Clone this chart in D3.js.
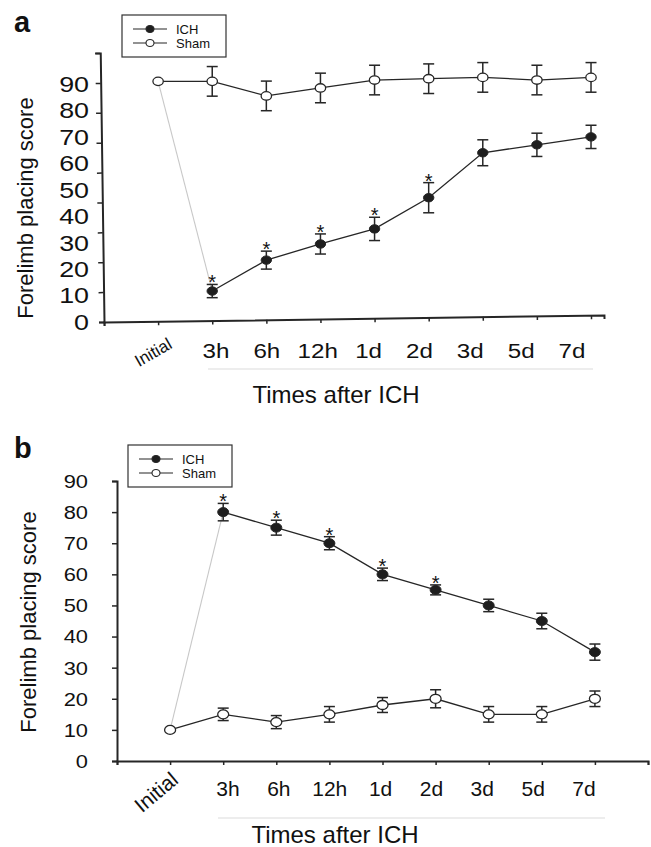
<!DOCTYPE html>
<html>
<head>
<meta charset="utf-8">
<script src="https://cdn.jsdelivr.net/npm/d3@7"></script>
<style>
  html, body { margin: 0; padding: 0; background: #fff; }
  svg { display: block; font-family: "Liberation Sans", Arial, sans-serif; }
</style>
</head>
<body>
<svg id="chart" width="651" height="847"></svg>
<script>
// ---------------- data ----------------
const timeLabels = ["Initial", "3h", "6h", "12h", "1d", "2d", "3d", "5d", "7d"];
const yTickLabels = [0, 10, 20, 30, 40, 50, 60, 70, 80, 90];
const seriesNames = ["ICH", "Sham"];

// Panel a (values from Initial .. 7d; ICH starts at 3h)
const shamA    = [91, 91, 85.5, 88.5, 91.5, 92, 92.5, 91.5, 92.5];
const shamErrA = [0, 5.6, 5.6, 5.6, 5.6, 5.6, 5.6, 5.6, 5.6];
const ichA     = [null, 11.7, 23.4, 29.5, 35.2, 47, 64, 67, 70];
const ichErrA  = [0, 2.5, 3.4, 3.8, 4.4, 5.7, 4.9, 4.4, 4.4];
const sigA     = [false, true, true, true, true, true, false, false, false];

// Panel b
const shamB    = [10, 15, 12.5, 15, 18, 20, 15, 15, 20];
const shamErrB = [0, 2, 2.1, 2.5, 2.4, 2.9, 2.5, 2.5, 2.5];
const ichB     = [null, 80, 75, 70, 60, 55, 50, 45, 35];
const ichErrB  = [0, 2.8, 2.4, 2.1, 2, 1.6, 2, 2.5, 2.6];
const sigB     = [false, true, true, true, true, true, false, false, false];

// ---------------- drawing ----------------
const svg = d3.select("#chart");
const DARK = "#262626";

function stretchText(sel, sx) {
  sel.each(function () {
    const t = d3.select(this);
    const x = +t.attr("x") || 0, y = +t.attr("y") || 0;
    t.attr("x", 0).attr("y", 0).attr("transform", `translate(${x},${y}) scale(${sx},1)`);
  });
}

function drawPanel(p) {
  const g = svg.append("g");

  // panel letter
  g.append("text").attr("x", p.letterX).attr("y", p.letterY)
    .attr("font-size", 29).attr("font-weight", "bold").attr("fill", "#111").text(p.letter);

  // axes lines (optionally slightly tilted, as in the scan)
  const axG = g.append("g").attr("transform", `rotate(${p.tilt},${p.x0},${p.y0})`);
  const xAxis = axG.append("g").attr("transform", `translate(0,${p.y0})`)
    .call(d3.axisBottom(p.x).tickValues(d3.range(0, p.nXTicks)).tickFormat("").tickSizeOuter(0).tickSize(4));
  const yAxis = axG.append("g").attr("transform", `translate(${p.x0},0)`)
    .call(d3.axisLeft(p.yTick).tickValues(d3.range(0, p.nYTicks)).tickFormat("").tickSizeOuter(0).tickSize(5));
  [xAxis, yAxis].forEach(a => {
    a.select(".domain").attr("stroke", DARK).attr("stroke-width", 2);
    a.selectAll(".tick line").attr("stroke", DARK).attr("stroke-width", 1.5);
  });

  // y tick labels
  const yl = g.append("g").selectAll("text").data(yTickLabels).join("text")
    .attr("x", p.yLabX).attr("y", d => p.y(d)).attr("dy", "0.36em")
    .attr("text-anchor", "end").attr("font-size", p.yLabSize).attr("fill", "#111")
    .text(d => d);
  stretchText(yl, p.yLabStretch);

  // x tick labels (time points after Initial)
  const xl = g.append("g").selectAll("text").data(timeLabels.slice(1)).join("text")
    .attr("x", d => p.xLab(d)).attr("y", p.xLabY).attr("dy", "0.36em")
    .attr("text-anchor", "middle").attr("font-size", p.xLabSize).attr("fill", "#111")
    .text(d => d);
  stretchText(xl, p.xLabStretch);

  // "Initial" rotated
  g.append("text").attr("transform", `translate(${p.initX},${p.initY}) rotate(${p.initRot})`)
    .attr("text-anchor", "middle").attr("dy", "0.36em").attr("font-size", p.initSize).attr("fill", "#111")
    .text(timeLabels[0]);

  // gray separator line and x title
  g.append("line").attr("x1", p.sepX1).attr("x2", p.sepX2).attr("y1", p.sepY).attr("y2", p.sepY)
    .attr("stroke", "#dcdcdc").attr("stroke-width", 1.2);
  g.append("text").attr("x", p.xTitleX).attr("y", p.xTitleY).attr("text-anchor", "middle")
    .attr("font-size", 24).attr("fill", "#111").text("Times after ICH");

  // y title
  g.append("text").attr("transform", `translate(${p.yTitleX},${p.yTitleY}) rotate(-90)`)
    .attr("text-anchor", "middle").attr("font-size", 22).attr("fill", "#111").text("Forelimb placing score");

  // data
  const xi = i => p.x(i + 1);
  const shamPts = p.sham.map((v, i) => ({ i, v, e: p.shamErr[i] }));
  const ichPts = p.ich.map((v, i) => ({ i, v, e: p.ichErr[i], s: p.sig[i] })).filter(d => d.v != null);

  // gray connector Initial (sham) -> first ICH
  g.append("line")
    .attr("x1", xi(0)).attr("y1", p.y(p.sham[0]))
    .attr("x2", xi(ichPts[0].i)).attr("y2", p.y(ichPts[0].v))
    .attr("stroke", "#c8c8c8").attr("stroke-width", 1.1);

  const line = d3.line().x(d => xi(d.i)).y(d => p.y(d.v));
  g.append("path").datum(shamPts).attr("d", line).attr("fill", "none").attr("stroke", DARK).attr("stroke-width", 1.3);
  g.append("path").datum(ichPts).attr("d", line).attr("fill", "none").attr("stroke", DARK).attr("stroke-width", 1.3);

  function errBars(pts) {
    const eb = g.append("g").selectAll("g").data(pts.filter(d => d.e > 0)).join("g")
      .attr("stroke", DARK).attr("stroke-width", 1.5);
    eb.append("line").attr("x1", d => xi(d.i)).attr("x2", d => xi(d.i))
      .attr("y1", d => p.y(d.v + d.e)).attr("y2", d => p.y(d.v - d.e));
    [1, -1].forEach(s => eb.append("line")
      .attr("x1", d => xi(d.i) - p.cap).attr("x2", d => xi(d.i) + p.cap)
      .attr("y1", d => p.y(d.v + s * d.e)).attr("y2", d => p.y(d.v + s * d.e)));
  }
  errBars(shamPts);
  errBars(ichPts);

  g.append("g").selectAll("ellipse").data(shamPts).join("ellipse")
    .attr("cx", d => xi(d.i)).attr("cy", d => p.y(d.v)).attr("rx", p.rx).attr("ry", p.ry)
    .attr("fill", "#fff").attr("stroke", DARK).attr("stroke-width", 1.3);
  g.append("g").selectAll("ellipse").data(ichPts).join("ellipse")
    .attr("cx", d => xi(d.i)).attr("cy", d => p.y(d.v)).attr("rx", p.rx).attr("ry", p.ry)
    .attr("fill", "#1e1e1e").attr("stroke", DARK).attr("stroke-width", 1);

  // asterisks
  g.append("g").selectAll("text").data(ichPts.filter(d => d.s)).join("text")
    .attr("x", d => xi(d.i)).attr("y", d => p.y(d.v + d.e) + 5)
    .attr("text-anchor", "middle").attr("font-size", 20).attr("fill", "#111").text("*");

  // legend
  const lg = g.append("g").attr("transform", `translate(${p.legX},${p.legY})`);
  lg.append("rect").attr("x", 0).attr("y", 0).attr("width", 104).attr("height", 42)
    .attr("fill", "#fff").attr("stroke", "#333").attr("stroke-width", 1.2);
  seriesNames.forEach((name, k) => {
    const yy = 14 + k * 14;
    lg.append("line").attr("x1", 11).attr("x2", 45).attr("y1", yy).attr("y2", yy)
      .attr("stroke", DARK).attr("stroke-width", 1.2);
    lg.append("ellipse").attr("cx", 28).attr("cy", yy).attr("rx", 4).attr("ry", 3.5)
      .attr("fill", k === 0 ? "#1e1e1e" : "#fff").attr("stroke", DARK).attr("stroke-width", 1.1);
    lg.append("text").attr("x", 54).attr("y", yy).attr("dy", "0.36em")
      .attr("font-size", 13).attr("fill", "#111").text(name);
  });
}

// ---- Panel a ----
drawPanel({
  letter: "a", letterX: 14, letterY: 32,
  x0: 104, y0: 322, tilt: -0.8,
  x: d3.scaleLinear().domain([0, 9.24]).range([104, 604]), nXTicks: 10,
  yTick: d3.scaleLinear().domain([0, 9]).range([322, 53]), nYTicks: 10,
  y: d3.scaleLinear().domain([0, 90]).range([322, 84]),
  yLabX: 89, yLabSize: 22, yLabStretch: 1.22,
  xLab: d3.scalePoint().domain(timeLabels.slice(1)).range([216, 572]),
  xLabY: 350, xLabSize: 21, xLabStretch: 1.15,
  initX: 153, initY: 352, initRot: -30, initSize: 17,
  sepX1: 208, sepX2: 593, sepY: 369,
  xTitleX: 336, xTitleY: 403,
  yTitleX: 33, yTitleY: 208,
  sham: shamA, shamErr: shamErrA, ich: ichA, ichErr: ichErrA, sig: sigA,
  rx: 5.2, ry: 4.2, cap: 5.5,
  legX: 122, legY: 15
});

// ---- Panel b ----
drawPanel({
  letter: "b", letterX: 14, letterY: 458,
  x0: 117, y0: 761, tilt: 0,
  x: d3.scaleLinear().domain([0, 10]).range([117, 648]), nXTicks: 11,
  yTick: d3.scaleLinear().domain([0, 9]).range([761, 481]), nYTicks: 10,
  y: d3.scaleLinear().domain([0, 90]).range([761, 481]),
  yLabX: 88, yLabSize: 19, yLabStretch: 1.15,
  xLab: d3.scalePoint().domain(timeLabels.slice(1)).range([228, 584]),
  xLabY: 788, xLabSize: 21, xLabStretch: 1.0,
  initX: 156, initY: 792, initRot: -40, initSize: 21,
  sepX1: 218, sepX2: 605, sepY: 818,
  xTitleX: 335, xTitleY: 843,
  yTitleX: 36, yTitleY: 622,
  sham: shamB, shamErr: shamErrB, ich: ichB, ichErr: ichErrB, sig: sigB,
  rx: 5.5, ry: 4.5, cap: 5.5,
  legX: 128, legY: 445
});
</script>
</body>
</html>
